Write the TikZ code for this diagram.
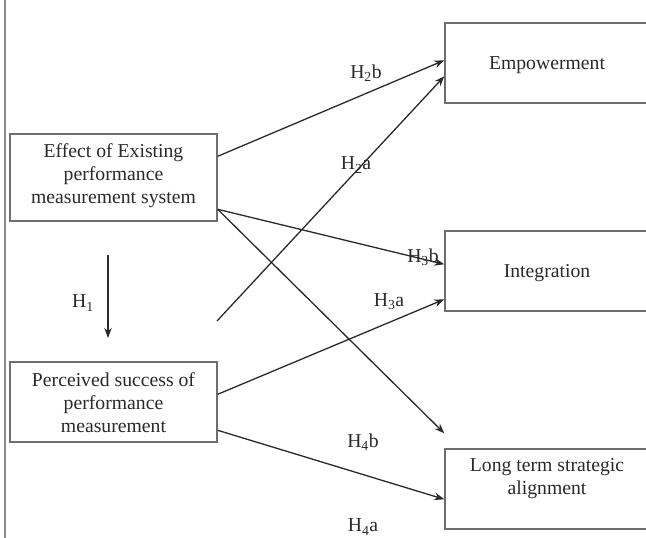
\documentclass[tikz,border=0pt]{standalone}
\usepackage{fontspec}
\setmainfont{Liberation Serif}
\usetikzlibrary{arrows.meta,calc}
\definecolor{ink}{HTML}{2A2A2A}
\definecolor{boxline}{HTML}{6E6E6E}
\definecolor{sideline}{HTML}{8A8A8A}
\begin{document}
\begin{tikzpicture}[x=1pt,y=-1pt,
  box/.style={draw=boxline,line width=1.4pt,rectangle,inner sep=0pt},
  txt/.style={text=ink,align=center,inner sep=0pt,font=\fontsize{19.7}{23}\selectfont},
  lab/.style={text=ink,inner sep=0pt,font=\fontsize{19.7}{23}\selectfont},
  conn/.style={draw=ink,line width=1.3pt,-{Stealth[length=10pt,width=7.5pt]}},
  plain/.style={draw=ink,line width=1.3pt}]
\useasboundingbox (0,0) rectangle (646,538);
\fill[white] (0,0) rectangle (646,538);
\draw[sideline,line width=2pt] (5,0) -- (5,538);

% boxes
\node[box,minimum width=207pt,minimum height=87pt] (eff) at (113.5,177.5) {};
\node[txt] (efft) at (113.5,176) {Effect of Existing\\performance\\measurement system};
\node[box,minimum width=207pt,minimum height=80pt] (per) at (113.5,402) {};
\node[txt] (pert) at (113.5,403) {Perceived success of\\performance\\measurement};
\node[box,minimum width=205pt,minimum height=80pt] (emp) at (547.5,63) {};
\node[txt] (empt) at (547,65) {Empowerment};
\node[box,minimum width=205pt,minimum height=80pt] (int) at (547.5,271) {};
\node[txt] (intt) at (547,273) {Integration};
\node[box,minimum width=205pt,minimum height=80pt] (lng) at (547.5,489) {};
\node[txt] (lngt) at (547,479) {Long term strategic\\alignment};

% free coordinates
\coordinate (h1a) at (108,255);
\coordinate (h1b) at (108,338);
\coordinate (h2astart) at (217,321);
\coordinate (lngin) at ($(lng.north west)+(0,-15)$);

% connectors
\draw[conn] (h1a) -- (h1b);
\draw[conn] ($(eff.north east)+(0,23)$) -- ($(emp.north west)+(0,38)$);
\draw[conn] (h2astart) -- ($(emp.north west)+(0,54)$);
\draw[conn] ($(eff.north east)+(0,76)$) -- ($(int.north west)+(0,34)$);
\draw[conn] ($(eff.north east)+(0,76)$) -- (lngin);
\draw[conn] ($(per.north east)+(0,33)$) -- ($(int.north west)+(0,69)$);
\draw[conn] ($(per.north east)+(0,69)$) -- ($(lng.north west)+(0,51)$);

% labels
\node[lab] (l1) at (83,303) {H\textsubscript{1}};
\node[lab] (l2b) at (366,73) {H\textsubscript{2}b};
\node[lab] (l2a) at (356,165) {H\textsubscript{2}a};
\node[lab] (l3b) at (423,257) {H\textsubscript{3}b};
\node[lab] (l3a) at (389,302) {H\textsubscript{3}a};
\node[lab] (l4b) at (363,442) {H\textsubscript{4}b};
\node[lab] (l4a) at (363,527) {H\textsubscript{4}a};
\end{tikzpicture}
\end{document}
